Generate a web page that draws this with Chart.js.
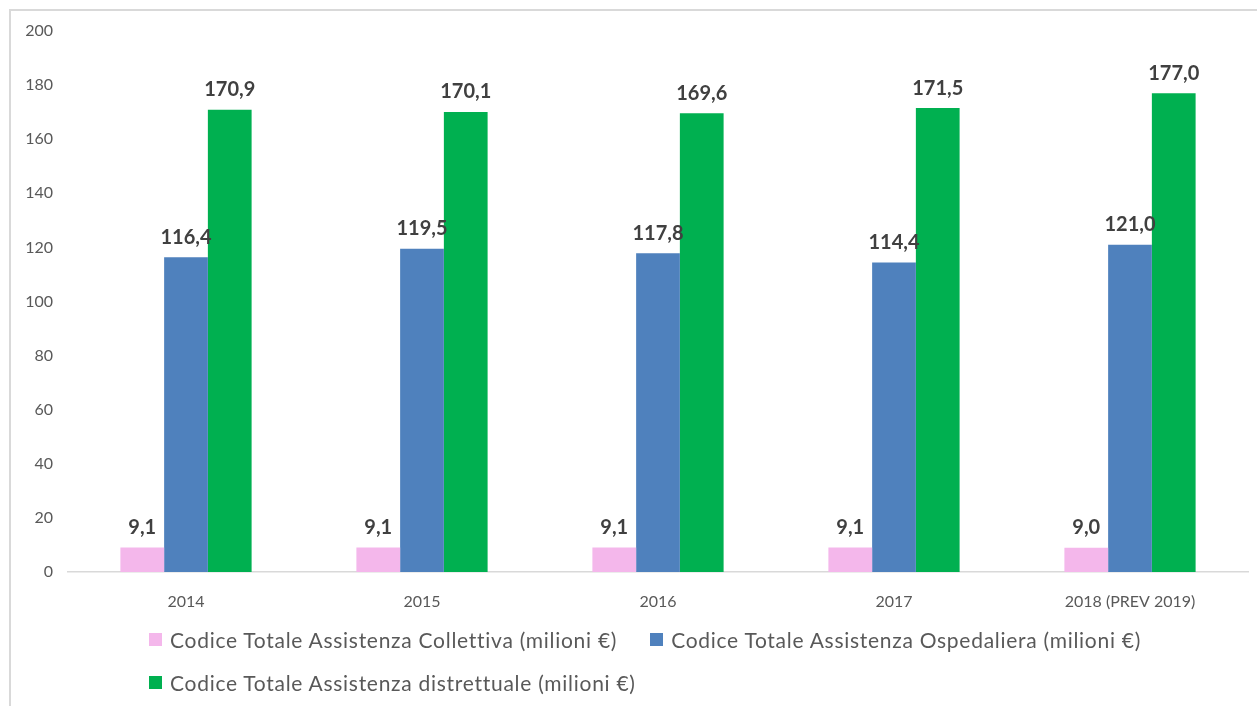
<!DOCTYPE html>
<html>
<head>
<meta charset="utf-8">
<script src="https://cdn.jsdelivr.net/npm/chart.js@4/dist/chart.umd.min.js"></script>
<style>
  html, body { margin: 0; padding: 0; background: #fff; }
  #wrap { position: relative; width: 1257px; height: 706px; overflow: hidden; background: #fff; }
  #frame { position: absolute; left: 9px; top: 9px; width: 1260px; height: 720px;
           border-top: 2px solid #d9d9d9; border-left: 2px solid #d9d9d9; box-sizing: border-box; }
  #c { position: absolute; left: 0; top: 0; }
  #legend { position: absolute; left: 149px; top: 627px; width: 1080px; display: flex; flex-wrap: wrap;
            font-family: Lato, "Open Sans", sans-serif; font-size: 21px; letter-spacing: 0.72px;
            color: #595959; row-gap: 19px; }
  .item { display: flex; align-items: center; margin-right: 33px; height: 24px; }
  .sw { width: 13px; height: 13px; margin-right: 8px; flex: none; }
</style>
</head>
<body>
<div id="wrap">
  <div id="frame"></div>
  <canvas id="c" width="1257" height="706"></canvas>
  <div id="legend"></div>
</div>
<script>
const categories = ["2014", "2015", "2016", "2017", "2018 (PREV 2019)"];
const collettiva = [9.1, 9.1, 9.1, 9.1, 9.0];
const ospedaliera = [116.4, 119.5, 117.8, 114.4, 121.0];
const distrettuale = [170.9, 170.1, 169.6, 171.5, 177.0];
const seriesNames = [
  "Codice Totale Assistenza Collettiva (milioni €)",
  "Codice Totale Assistenza Ospedaliera (milioni €)",
  "Codice Totale Assistenza distrettuale (milioni €)"
];
const seriesColors = ["#F4B7EB", "#4F81BD", "#00B050"];
const yTicks = [0, 20, 40, 60, 80, 100, 120, 140, 160, 180, 200];

const seriesData = [collettiva, ospedaliera, distrettuale];

const labelPlugin = {
  id: "valueLabels",
  afterDatasetsDraw(chart) {
    const ctx = chart.ctx;
    ctx.save();
    ctx.font = "bold 20px Lato, 'Open Sans', sans-serif";
    ctx.fillStyle = "#404040";
    ctx.textAlign = "center";
    ctx.textBaseline = "bottom";
    chart.data.datasets.forEach((ds, di) => {
      const meta = chart.getDatasetMeta(di);
      meta.data.forEach((bar, i) => {
        const txt = ds.data[i].toFixed(1).replace(".", ",");
        ctx.fillText(txt, bar.x, bar.y - 10);
      });
    });
    ctx.restore();
  }
};

const tickFont = { family: "Lato, 'Open Sans', sans-serif", size: 16 };

const chart = new Chart(document.getElementById("c"), {
  type: "bar",
  data: {
    labels: categories,
    datasets: seriesData.map((d, i) => ({
      label: seriesNames[i],
      data: d,
      backgroundColor: seriesColors[i],
      borderWidth: 0,
      categoryPercentage: 0.556,
      barPercentage: 1.0
    }))
  },
  options: {
    responsive: false,
    animation: false,
    devicePixelRatio: 1,
    layout: { padding: { left: 12, right: 9, top: 31, bottom: 94 } },
    plugins: { legend: { display: false }, tooltip: { enabled: false } },
    scales: {
      x: {
        grid: { display: false },
        border: { display: true, color: "#d9d9d9", width: 1.5 },
        ticks: { color: "#595959", font: tickFont, padding: 12, maxRotation: 0 },
        afterFit(scale) { scale.height = 40; }
      },
      y: {
        min: 0, max: 200,
        afterBuildTicks(scale) { scale.ticks = yTicks.map(v => ({ value: v })); },
        grid: { display: false },
        border: { display: false },
        ticks: { color: "#595959", font: tickFont, padding: 7 },
        afterFit(scale) { scale.width = 56; }
      }
    }
  },
  plugins: [labelPlugin]
});

const legend = document.getElementById("legend");
seriesNames.forEach((name, i) => {
  const it = document.createElement("div");
  it.className = "item";
  const sw = document.createElement("span");
  sw.className = "sw";
  sw.style.background = seriesColors[i];
  const tx = document.createElement("span");
  tx.textContent = name;
  it.appendChild(sw); it.appendChild(tx);
  legend.appendChild(it);
});
</script>
</body>
</html>
